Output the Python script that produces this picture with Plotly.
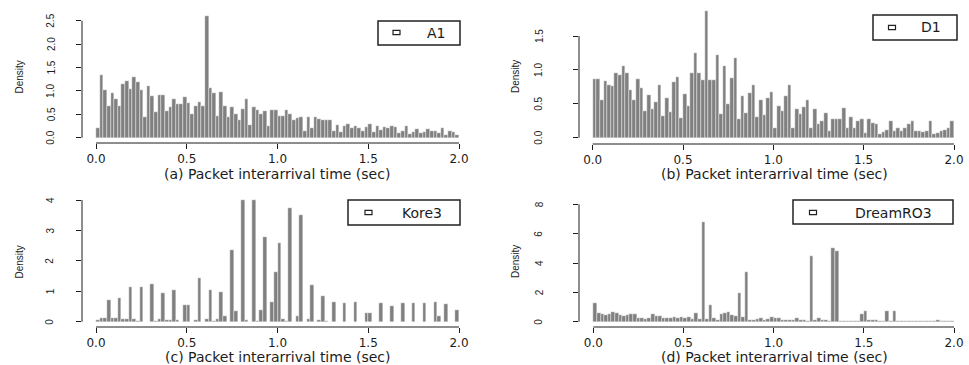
import numpy as np
import plotly.graph_objects as go

W, H = 969, 365
BIN = 0.02
bin_centers = [round(BIN * i + BIN / 2, 3) for i in range(100)]

a1 = [0.20,1.34,1.03,0.68,0.95,0.83,0.68,1.15,1.22,1.05,
      1.30,1.18,1.02,0.45,1.10,0.90,0.55,0.92,0.92,0.57,
      0.65,0.82,0.72,0.72,0.87,0.75,0.50,0.68,0.76,0.67,
      2.60,1.07,0.95,0.47,0.97,0.68,0.45,0.66,0.50,0.38,
      0.62,0.83,0.27,0.65,0.60,0.50,0.57,0.25,0.60,0.60,
      0.46,0.46,0.60,0.50,0.38,0.42,0.45,0.15,0.45,0.20,
      0.45,0.40,0.38,0.38,0.38,0.15,0.28,0.13,0.25,0.30,
      0.20,0.25,0.20,0.15,0.22,0.30,0.13,0.25,0.17,0.22,
      0.20,0.25,0.22,0.10,0.15,0.25,0.08,0.13,0.18,0.10,
      0.13,0.18,0.15,0.14,0.10,0.20,0.05,0.15,0.12,0.05]

d1 = [0.86,0.86,0.55,0.84,0.78,0.76,0.96,0.92,1.06,0.96,
      0.70,0.55,0.87,0.74,0.39,0.63,0.43,0.53,0.77,0.32,
      0.58,0.38,0.82,0.90,0.29,0.65,0.47,0.95,1.25,0.95,
      0.85,1.87,0.85,0.85,1.22,0.35,1.06,0.50,0.88,1.18,
      0.28,0.62,0.36,0.66,0.78,0.30,0.55,0.33,0.58,0.68,
      0.14,0.47,0.40,0.62,0.78,0.14,0.42,0.35,0.45,0.56,
      0.14,0.42,0.20,0.25,0.36,0.10,0.28,0.28,0.28,0.44,
      0.15,0.30,0.15,0.25,0.28,0.07,0.27,0.22,0.20,0.05,
      0.08,0.12,0.25,0.10,0.15,0.10,0.15,0.20,0.25,0.10,
      0.10,0.08,0.10,0.25,0.05,0.07,0.10,0.12,0.15,0.24]

kore3 = [0.05,0.13,0.13,0.71,0.13,0.13,0.77,0.10,0.10,1.13,
         0.10,0.02,1.13,0.00,0.00,1.23,0.02,0.10,0.94,0.05,
         0.05,1.03,0.05,0.00,0.55,0.55,0.00,0.05,1.45,0.00,
         0.10,1.03,0.02,0.10,0.99,0.20,0.00,2.36,0.35,0.00,
         4.00,0.05,0.00,4.00,0.03,0.40,2.80,0.00,0.65,1.63,
         2.58,0.10,0.03,3.75,0.00,0.18,3.50,0.00,0.10,1.20,
         0.00,0.05,0.85,0.03,0.00,0.65,0.00,0.00,0.62,0.00,
         0.00,0.65,0.00,0.00,0.30,0.30,0.00,0.00,0.62,0.00,
         0.00,0.53,0.00,0.00,0.60,0.00,0.00,0.60,0.00,0.00,
         0.60,0.00,0.00,0.65,0.18,0.00,0.57,0.00,0.00,0.38]

dreamro3 = [1.30,0.57,0.50,0.45,0.50,0.68,0.62,0.45,0.41,0.45,
            0.50,0.50,0.23,0.23,0.20,0.27,0.50,0.41,0.41,0.23,
            0.23,0.23,0.30,0.23,0.30,0.27,0.34,0.18,0.60,0.18,
            6.77,0.18,1.14,0.27,0.15,0.50,0.60,0.68,0.45,0.40,
            1.93,0.35,3.40,0.15,0.10,0.20,0.27,0.10,0.20,0.30,
            0.22,0.22,0.15,0.10,0.10,0.10,0.22,0.10,0.10,0.05,
            4.50,0.10,0.22,0.15,0.10,0.05,5.05,4.80,0.02,0.02,
            0.02,0.02,0.02,0.02,0.55,0.75,0.10,0.10,0.10,0.05,
            0.02,0.75,0.02,0.70,0.02,0.02,0.02,0.02,0.02,0.02,
            0.02,0.02,0.02,0.02,0.02,0.10,0.02,0.02,0.02,0.02]

x_ticks = [0.0, 0.5, 1.0, 1.5, 2.0]
x_ticktext = ["0.0", "0.5", "1.0", "1.5", "2.0"]

panels = [
    dict(name="A1", y=a1, title="(a) Packet interarrival time (sec)",
         yticks=[0.0, 0.5, 1.0, 1.5, 2.0, 2.5], ytext=["0.0", "0.5", "1.0", "1.5", "2.0", "2.5"],
         xdom=(82, 474), x0p=96, x2p=459, ydom=(143, 12), y0p=137.7, yv=2.5, yvp=20.7,
         title_xy=(277, 174), dens_xy=(18.5, 77), ylab_x=51,
         leg=(378, 460, 21, 45), mark=(396.5, 32.5), legtext_x=436),
    dict(name="D1", y=d1, title="(b) Packet interarrival time (sec)",
         yticks=[0.0, 0.5, 1.0, 1.5], ytext=["0.0", "0.5", "1.0", "1.5"],
         xdom=(579, 968), x0p=592.7, x2p=954, ydom=(144, 8), y0p=137.7, yv=1.5, yvp=36,
         title_xy=(774, 174), dens_xy=(515, 77), ylab_x=539,
         leg=(873, 957, 15, 40), mark=(892, 27.5), legtext_x=931),
    dict(name="Kore3", y=kore3, title="(c) Packet interarrival time (sec)",
         yticks=[0, 1, 2, 3, 4], ytext=["0", "1", "2", "3", "4"],
         xdom=(82, 474), x0p=96, x2p=459, ydom=(327, 195), y0p=321.7, yv=4, yvp=200,
         title_xy=(278, 357), dens_xy=(18.5, 262), ylab_x=50,
         leg=(348, 460, 200, 225), mark=(368.5, 212.5), legtext_x=422),
    dict(name="DreamRO3", y=dreamro3, title="(d) Packet interarrival time (sec)",
         yticks=[0, 2, 4, 6, 8], ytext=["0", "2", "4", "6", "8"],
         xdom=(579, 968), x0p=593.3, x2p=954, ydom=(327, 199), y0p=321.7, yv=8, yvp=204.3,
         title_xy=(774, 357), dens_xy=(515, 262), ylab_x=539,
         leg=(793, 953, 200, 224), mark=(813, 212.5), legtext_x=893),
]

def px(x):
    return x / W

def py(y):
    return 1 - y / H

fig = go.Figure()
layout = dict(width=W, height=H, autosize=False,
              margin=dict(l=0, r=0, t=0, b=0),
              paper_bgcolor="white", plot_bgcolor="white",
              showlegend=False, bargap=0)
shapes = []
annotations = []
BAR = "#808080"
TXT = "#1c1c1c"

for i, p in enumerate(panels, start=1):
    xa = "x" if i == 1 else f"x{i}"
    ya = "y" if i == 1 else f"y{i}"
    fig.add_trace(go.Bar(x=bin_centers, y=p["y"], width=BIN, xaxis=xa, yaxis=ya,
                         marker=dict(color=BAR, line=dict(color="white", width=0.4)),
                         name=p["name"]))
    sx = (p["x2p"] - p["x0p"]) / 2.0
    xr = [(p["xdom"][0] - p["x0p"]) / sx, (p["xdom"][1] - p["x0p"]) / sx]
    sy = (p["y0p"] - p["yvp"]) / p["yv"]
    yr = [(p["y0p"] - p["ydom"][0]) / sy, (p["y0p"] - p["ydom"][1]) / sy]
    layout[f"xaxis{'' if i == 1 else i}"] = dict(
        domain=[px(p["xdom"][0]), px(p["xdom"][1])], range=xr, anchor=ya,
        showgrid=False, zeroline=False, showline=False,
        ticks="outside", ticklen=5, tickwidth=1, tickcolor=TXT,
        tickvals=x_ticks, ticktext=x_ticktext, ticklabelstandoff=0,
        tickfont=dict(family="DejaVu Sans", size=12, color=TXT), fixedrange=True)
    layout[f"yaxis{'' if i == 1 else i}"] = dict(
        domain=[py(p["ydom"][0]), py(p["ydom"][1])], range=yr, anchor=xa,
        showgrid=False, zeroline=False, showline=False,
        ticks="outside", ticklen=5, tickwidth=1, tickcolor=TXT,
        tickvals=p["yticks"], showticklabels=False, fixedrange=True)
    # y tick labels placed R-style (rotated, set off from the axis)
    for v, s in zip(p["yticks"], p["ytext"]):
        annotations.append(dict(x=px(p["ylab_x"]), y=v, xref="paper", yref=ya,
                                text=s, showarrow=False, textangle=-90,
                                xanchor="center", yanchor="middle",
                                font=dict(family="Liberation Sans", size=10, color=TXT)))
    shapes.append(dict(type="line", xref=xa, yref=f"{ya} domain",
                       x0=x_ticks[0], x1=x_ticks[-1], y0=0, y1=0,
                       line=dict(color=TXT, width=1)))
    shapes.append(dict(type="line", xref=f"{xa} domain", yref=ya,
                       x0=0, x1=0, y0=p["yticks"][0], y1=p["yticks"][-1],
                       line=dict(color=TXT, width=1)))
    l, r, t, b = p["leg"]
    shapes.append(dict(type="rect", xref="paper", yref="paper",
                       x0=px(l), x1=px(r), y0=py(b), y1=py(t),
                       line=dict(color="#222222", width=1.5), fillcolor="white"))
    mx, my = p["mark"]
    shapes.append(dict(type="rect", xref="paper", yref="paper",
                       x0=px(mx - 3.5), x1=px(mx + 3.5), y0=py(my + 2.2), y1=py(my - 2.2),
                       line=dict(color="#222222", width=1.2)))
    annotations.append(dict(x=px(p["legtext_x"]), y=py(my), xref="paper", yref="paper",
                            text=p["name"], showarrow=False, xanchor="center", yanchor="middle",
                            font=dict(family="DejaVu Sans", size=14, color=TXT)))
    tx, ty = p["title_xy"]
    annotations.append(dict(x=px(tx), y=py(ty), xref="paper", yref="paper",
                            text=p["title"], showarrow=False, xanchor="center", yanchor="middle",
                            font=dict(family="DejaVu Sans", size=14, color=TXT)))
    dx, dy = p["dens_xy"]
    annotations.append(dict(x=px(dx), y=py(dy), xref="paper", yref="paper",
                            text="Density", showarrow=False, textangle=-90,
                            xanchor="center", yanchor="middle",
                            font=dict(family="Liberation Sans", size=10, color=TXT)))

layout["shapes"] = shapes
layout["annotations"] = annotations
fig.update_layout(**layout)
fig.write_html("out.html")
